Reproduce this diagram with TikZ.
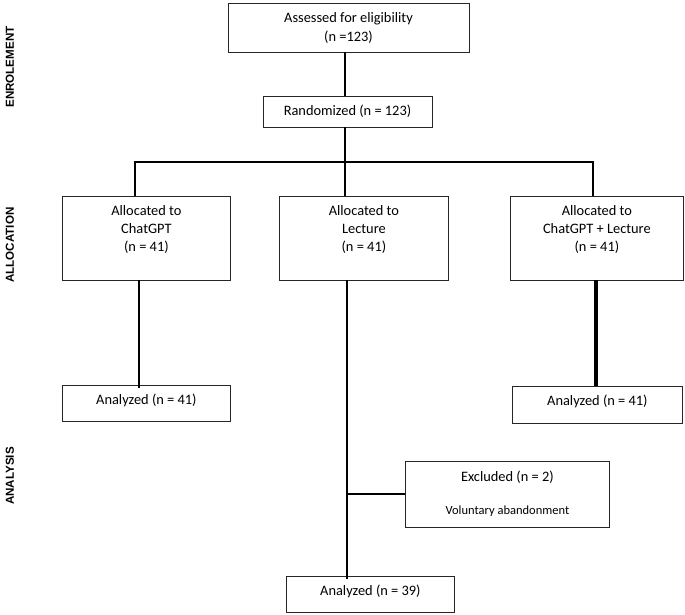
\documentclass[tikz,border=0pt]{standalone}
\usepackage{fontspec}
\setmainfont{Carlito}
\newfontfamily\labfont{Liberation Sans}
\begin{document}
\begin{tikzpicture}[x=1pt,y=-1pt,
  box/.style={draw=black!85,line width=0.8pt,inner sep=0pt,fill=white,font=\fontsize{14.4}{19}\selectfont,align=center},
  conn/.style={line width=2.4pt,black},
  phase/.style={rotate=90,font=\labfont\bfseries\fontsize{11.6}{13}\selectfont}]
\useasboundingbox (0,0) rectangle (685,614);
% phase labels
\node[phase] (lenr) at (10,67) {ENROLEMENT};
\node[phase] (lall) at (10,245) {ALLOCATION};
\node[phase] (lana) at (10,476) {ANALYSIS};
% boxes
\node[box,minimum width=241pt,minimum height=49pt] (assess) at (348.5,27.5) {Assessed for eligibility\\(n =123)};
\node[box,minimum width=169pt,minimum height=31pt] (rand) at (347.5,111.5) {Randomized (n = 123)};
\node[box,anchor=north west] (a1) at (62,196) {\parbox[t][84pt][t]{168pt}{\centering\fontsize{14.4}{18}\selectfont\vspace*{9.5pt}Allocated to\\ChatGPT\\(n = 41)}};
\node[box,anchor=north west] (a2) at (279,196) {\parbox[t][84pt][t]{169pt}{\centering\fontsize{14.4}{18}\selectfont\vspace*{9.5pt}Allocated to\\Lecture\\(n = 41)}};
\node[box,anchor=north west] (a3) at (510,196) {\parbox[t][84pt][t]{173pt}{\centering\fontsize{14.4}{18}\selectfont\vspace*{9.5pt}Allocated to\\ChatGPT + Lecture\\(n = 41)}};
\node[box,anchor=north west] (n1) at (62,385) {\parbox[t][36pt][t]{168pt}{\centering\vspace*{8.5pt}Analyzed (n = 41)}};
\node[box,anchor=north west] (n3) at (512,386) {\parbox[t][37pt][t]{170pt}{\centering\vspace*{8.5pt}Analyzed (n = 41)}};
\node[box,anchor=north west] (ex) at (405,461) {\parbox[t][66pt][t]{204pt}{\centering\vspace*{9.5pt}Excluded (n = 2)\\[14pt]{\fontsize{12.5}{14}\selectfont Voluntary abandonment}}};
\node[box,anchor=north west] (n2) at (286,576) {\parbox[t][36pt][t]{168pt}{\centering\vspace*{8.5pt}Analyzed (n = 39)}};
% connector points
\coordinate (j0) at (345,162);
\coordinate (jl) at (135,162);
\coordinate (jr) at (593,162);
\coordinate (b1) at (139,280);
\coordinate (b2) at (347,280);
\coordinate (b3) at (596,280);
\coordinate (jx) at (347,494);
% connectors
\draw[conn] (assess.south -| j0) -- (rand.north -| j0);
\draw[conn] (rand.south -| j0) -- (j0);
\draw[conn,line cap=rect] (jl) -- (jr);
\draw[conn] (jl) -- (a1.north -| jl);
\draw[conn] (j0) -- (a2.north -| j0);
\draw[conn] (jr) -- (a3.north -| jr);
\draw[conn] (b1) -- ([yshift=-3pt]n1.north -| b1);
\draw[conn,line width=2.8pt] (b2) -- ([yshift=-3pt]n2.north -| b2);
\draw[conn,line width=3.4pt] (b3) -- (n3.north -| b3);
\draw[conn,line width=2pt] (jx) -- (ex.west |- jx);
\end{tikzpicture}
\end{document}
